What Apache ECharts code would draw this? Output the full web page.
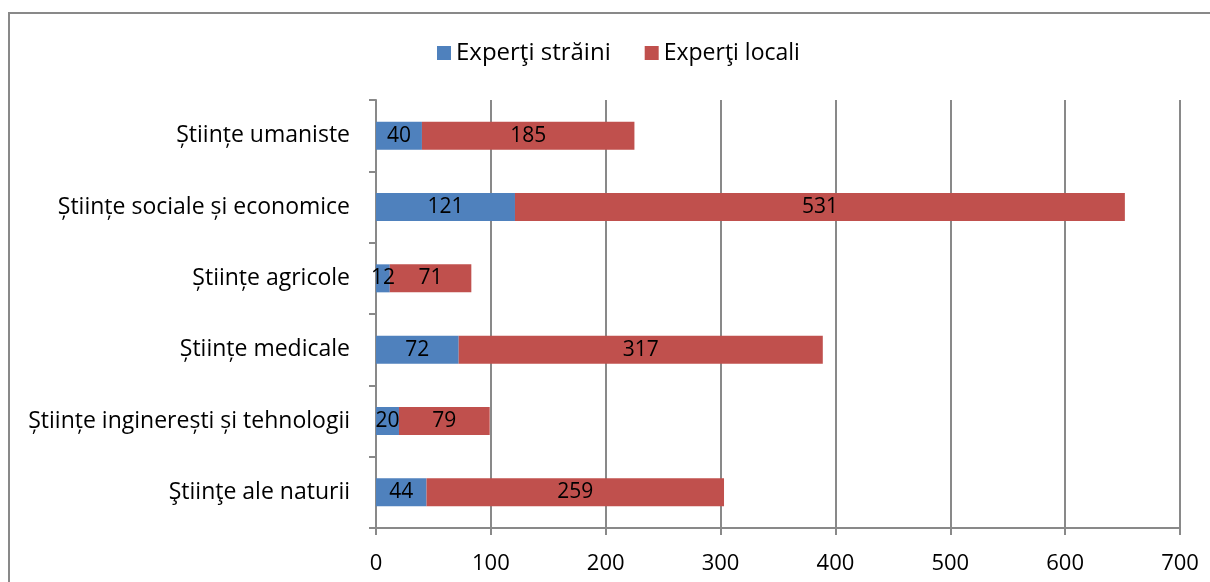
<!DOCTYPE html>
<html>
<head>
<meta charset="utf-8">
<script src="https://cdn.jsdelivr.net/npm/echarts@6/dist/echarts.min.js"></script>
<style>
  html, body { margin: 0; padding: 0; background: #fff; }
  #main { width: 1210px; height: 582px; }
</style>
</head>
<body>
<div id="main"></div>
<script>
// categories top -> bottom
var categories = [
  'Științe umaniste',
  'Științe sociale și economice',
  'Științe agricole',
  'Științe medicale',
  'Științe inginerești și tehnologii',
  'Ştiinţe ale naturii'
];
var expertiStraini = [40, 121, 12, 72, 20, 44];
var expertiLocali = [185, 531, 71, 317, 79, 259];
var xTicks = [0, 100, 200, 300, 400, 500, 600, 700];

var FONT = '"Open Sans", "Noto Sans", sans-serif';
var GRAY = '#898989';

var chart = echarts.init(document.getElementById('main'));

var option = {
  backgroundColor: '#fff',
  animation: false,
  textStyle: { fontFamily: FONT },
  graphic: [{
    type: 'rect',
    shape: { x: 9, y: 13, width: 1300, height: 700 },
    style: { fill: 'none', stroke: GRAY, lineWidth: 2 },
    silent: true
  }],
  legend: {
    top: 36,
    left: 432,
    itemWidth: 14,
    itemHeight: 14,
    itemGap: 34,
    icon: 'rect',
    data: [
      { name: 'Experţi străini', textStyle: { fontSize: 24 } },
      { name: 'Experţi locali', textStyle: { fontSize: 23 } }
    ],
    textStyle: { color: '#000', fontFamily: FONT }
  },
  grid: { left: 376, right: 30, top: 100, bottom: 54, containLabel: false },
  xAxis: {
    type: 'value',
    min: xTicks[0],
    max: xTicks[xTicks.length - 1],
    interval: 100,
    axisLine: { show: true, lineStyle: { color: GRAY, width: 2 } },
    axisTick: { show: true, length: 7, lineStyle: { color: GRAY, width: 2 } },
    axisLabel: { color: '#000', fontSize: 22, fontFamily: FONT, margin: 25 },
    splitLine: { show: true, lineStyle: { color: GRAY, width: 2 } }
  },
  yAxis: {
    type: 'category',
    inverse: true,
    data: categories,
    axisLine: { show: true, lineStyle: { color: GRAY, width: 2 } },
    axisTick: { show: true, length: 7, lineStyle: { color: GRAY, width: 2 } },
    axisLabel: { color: '#000', fontSize: 23, fontFamily: FONT, margin: 26 }
  },
  series: [
    {
      name: 'Experţi străini',
      type: 'bar',
      stack: 'total',
      barWidth: 28,
      data: expertiStraini,
      itemStyle: { color: '#4F81BD' },
      label: { show: true, position: 'inside', color: '#000', fontSize: 21, fontFamily: FONT }
    },
    {
      name: 'Experţi locali',
      type: 'bar',
      stack: 'total',
      barWidth: 28,
      data: expertiLocali,
      itemStyle: { color: '#C0504D' },
      label: { show: true, position: 'inside', color: '#000', fontSize: 21, fontFamily: FONT }
    }
  ]
};

chart.setOption(option);
</script>
</body>
</html>
